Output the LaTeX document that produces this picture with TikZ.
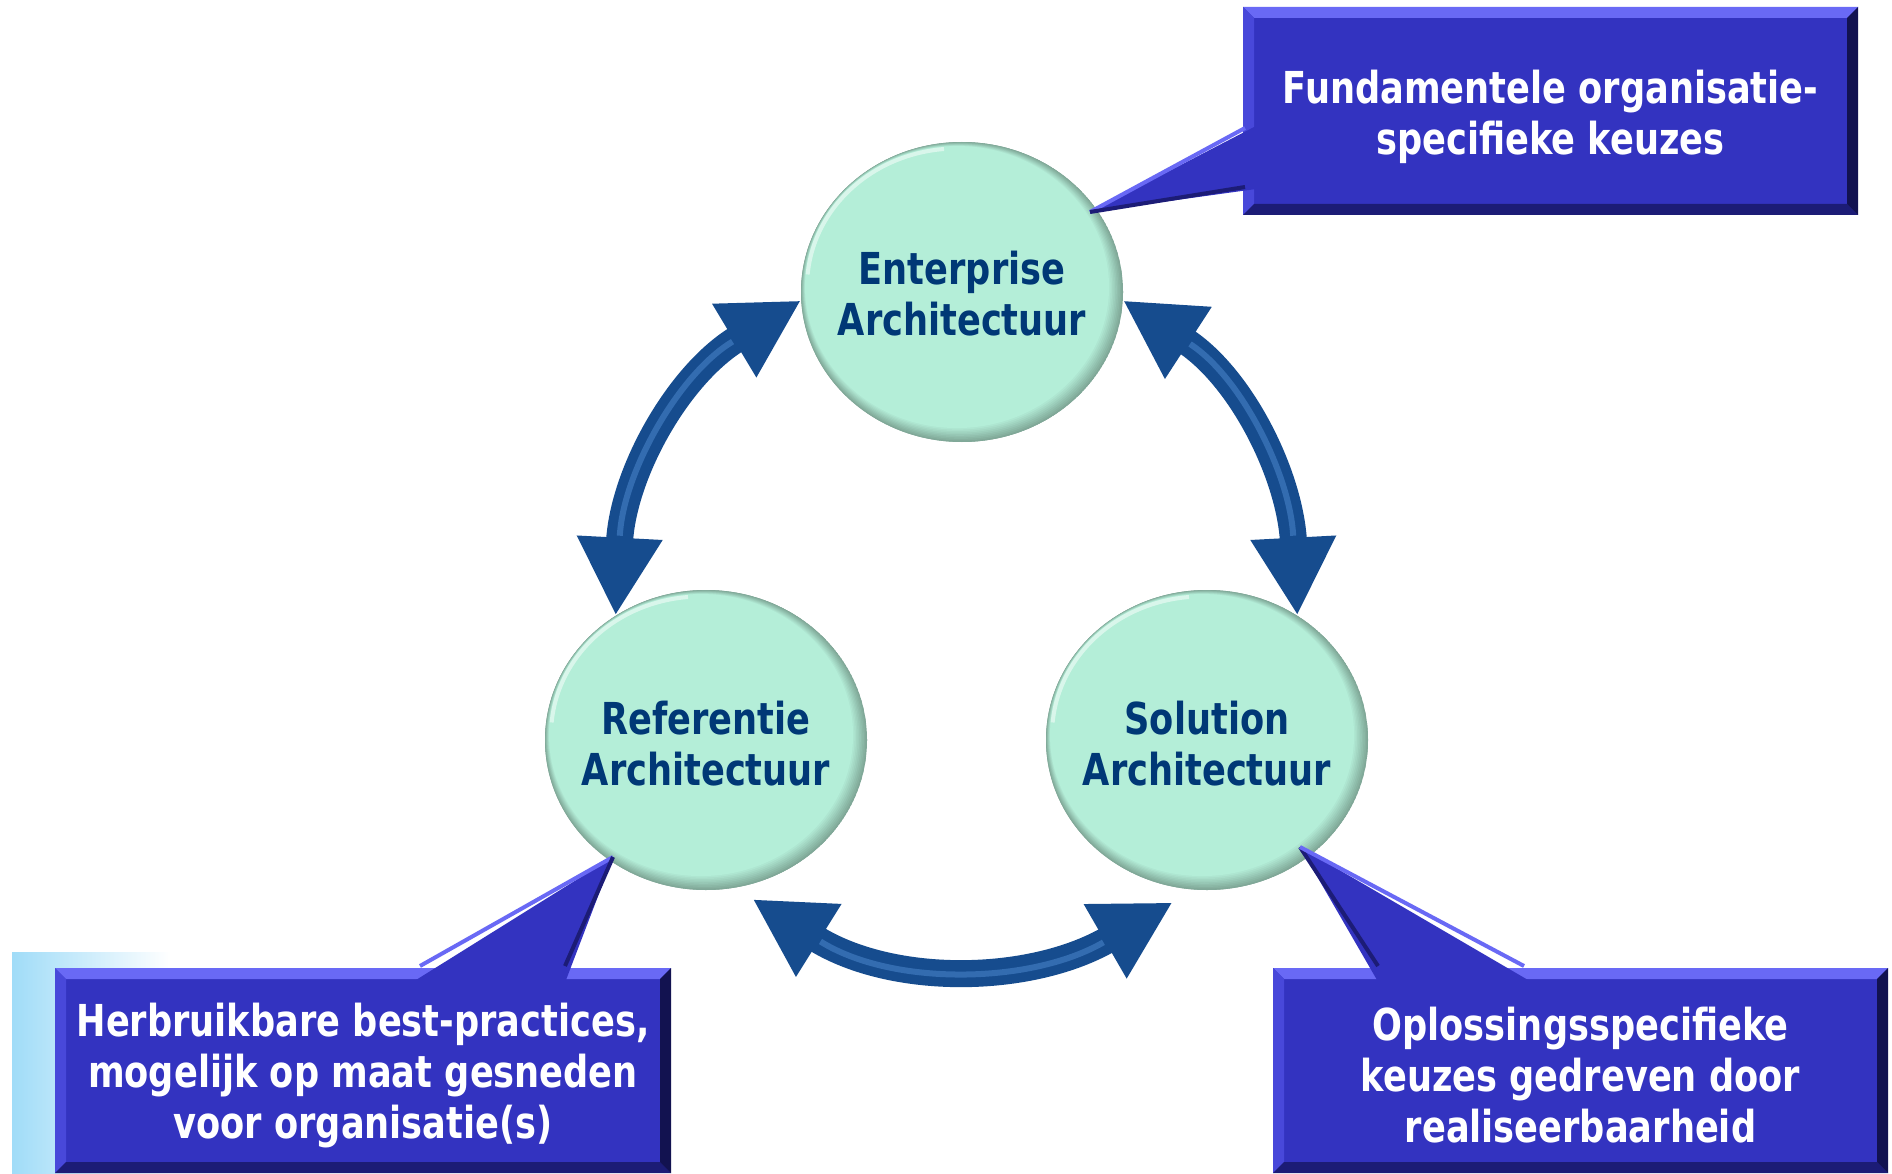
\documentclass[tikz,border=0pt]{standalone}
\usepackage{fontspec}
\newfontfamily\dfont[FakeStretch=0.8]{DejaVu Sans}
\usetikzlibrary{arrows.meta,shapes.geometric}
\definecolor{mint}{RGB}{180,238,216}
\definecolor{rimdark}{RGB}{128,168,152}
\definecolor{titleblue}{RGB}{0,56,118}
\definecolor{boxmain}{RGB}{51,51,192}
\definecolor{bevtop}{RGB}{105,105,245}
\definecolor{bevleft}{RGB}{72,72,218}
\definecolor{bevright}{RGB}{18,18,80}
\definecolor{bevbottom}{RGB}{28,28,118}
\definecolor{arrowblue}{RGB}{22,76,142}
\definecolor{arrowlight}{RGB}{80,140,210}
\definecolor{glow}{RGB}{160,220,248}
\begin{document}
\begin{tikzpicture}[x=1pt,y=-1pt,
  bubble/.style={ellipse, minimum width=322pt, minimum height=300pt, inner sep=0pt,
    fill=rimdark,
    path picture={
      \foreach \i in {0,...,9}{
        \pgfmathsetmacro\mixp{100*\i/9}
        \pgfmathsetmacro\sh{0.55*\i}
        \pgfmathsetmacro\rx{161-\i}
        \pgfmathsetmacro\ry{150-\i}
        \fill[mint!\mixp!rimdark] ([xshift=-\sh pt,yshift=\sh pt]path picture bounding box.center)
          ellipse [x radius=\rx pt, y radius=\ry pt];
      }
      \draw[white,opacity=.5,line width=4pt] ([shift={(-18pt,143pt)}]path picture bounding box.center)
        arc[start angle=95,end angle=175,x radius=150pt,y radius=138pt];
    }},
  bubbletext/.style={text=titleblue, align=center, inner sep=0pt,
    font={\dfont\bfseries\fontsize{44pt}{51pt}\selectfont}},
  callbox/.style={rectangle, inner sep=0pt, fill=boxmain,
    path picture={
      \fill[bevtop] (path picture bounding box.north west) -- (path picture bounding box.north east)
        -- ([shift={(-11pt,-11pt)}]path picture bounding box.north east)
        -- ([shift={(11pt,-11pt)}]path picture bounding box.north west) -- cycle;
      \fill[bevleft] (path picture bounding box.north west) -- (path picture bounding box.south west)
        -- ([shift={(11pt,11pt)}]path picture bounding box.south west)
        -- ([shift={(11pt,-11pt)}]path picture bounding box.north west) -- cycle;
      \fill[bevbottom] (path picture bounding box.south west) -- (path picture bounding box.south east)
        -- ([shift={(-11pt,11pt)}]path picture bounding box.south east)
        -- ([shift={(11pt,11pt)}]path picture bounding box.south west) -- cycle;
      \fill[bevright] (path picture bounding box.north east) -- (path picture bounding box.south east)
        -- ([shift={(-11pt,11pt)}]path picture bounding box.south east)
        -- ([shift={(-11pt,-11pt)}]path picture bounding box.north east) -- cycle;
    }},
  boxtext/.style={text=white, align=center, inner sep=0pt,
    font={\dfont\bfseries\fontsize{44pt}{51pt}\selectfont}},
  pointer/.style={fill=boxmain},
  ptlight/.style={draw=bevtop, line width=4pt},
  ptdark/.style={draw=bevbottom, line width=4pt},
  bevarrow/.style={line width=27pt, draw=arrowblue,
    {Triangle[width=80pt,length=78pt]}-{Triangle[width=80pt,length=78pt]}},
  arrowshine/.style={line width=6pt, draw=arrowlight, opacity=.5}
]
\useasboundingbox (0,0) rectangle (1892,1174);
\fill[white] (0,0) rectangle (1892,1174);

% soft glow bottom left
\shade[left color=glow, right color=white] (12,952) rectangle (170,1174);

% circles
\node[bubble] (ent) at (962,292) {};
\node[bubble] (ref) at (706,740) {};
\node[bubble] (sol) at (1207,740) {};
\node[bubbletext] (entT) at ([yshift=-2pt]ent.center) {Enterprise\\Architectuur};
\node[bubbletext] (refT) at ([yshift=-4pt]ref.center) {Referentie\\Architectuur};
\node[bubbletext] (solT) at ([yshift=-4pt]sol.center) {Solution\\Architectuur};

% arrows
\draw[bevarrow] (ref.126) to[out=87,in=211] (ent.183);
\draw[arrowshine, shorten <=80pt, shorten >=80pt] (ref.126) to[out=87,in=211] (ent.183);
\draw[bevarrow] (ent.357) to[out=-33,in=93] (sol.54);
\draw[arrowshine, shorten <=80pt, shorten >=80pt] (ent.357) to[out=-33,in=93] (sol.54);
\draw[bevarrow] ([shift={(5pt,-14pt)}]ref.286) to[out=-32,in=210] ([shift={(-3pt,-15pt)}]sol.258);
\draw[arrowshine, shorten <=80pt, shorten >=80pt] ([shift={(5pt,-14pt)}]ref.286) to[out=-32,in=210] ([shift={(-3pt,-15pt)}]sol.258);

% callout boxes
\node[callbox, minimum width=615pt, minimum height=208pt] (fund) at (1550.5,111) {};
\node[callbox, minimum width=616pt, minimum height=205pt] (herb) at (363,1070.5) {};
\node[callbox, minimum width=615pt, minimum height=205pt] (oplo) at (1580.5,1070.5) {};

% pointers
\coordinate (tipE) at (1090,212);
\coordinate (tipR) at (613,857);
\coordinate (tipS) at (1300,847);

\fill[pointer] (1256,126) -- (tipE) -- (1256,189) -- cycle;
\draw[ptlight] (1245,128) -- (tipE);
\draw[ptdark] (tipE) -- (1245,187);

\fill[pointer] (416,980) -- (tipR) -- (566,980) -- cycle;
\draw[ptlight] (420,966) -- (tipR);
\draw[ptdark] (tipR) -- (565,966);

\fill[pointer] (1377,980) -- (tipS) -- (1528,980) -- cycle;
\draw[ptdark] (tipS) -- (1378,966);
\draw[ptlight] (tipS) -- (1524,966);

% box texts
\node[boxtext] (fundT) at ([yshift=-6pt]fund.center) {Fundamentele organisatie-\\specifieke keuzes};
\node[boxtext] (herbT) at ([yshift=-5pt]herb.center) {Herbruikbare best-practices,\\mogelijk op maat gesneden\\voor organisatie(s)};
\node[boxtext] (oploT) at ([yshift=-5pt]oplo.center) {Oplossingsspecifieke\\keuzes gedreven door\\realiseerbaarheid};
\end{tikzpicture}
\end{document}
